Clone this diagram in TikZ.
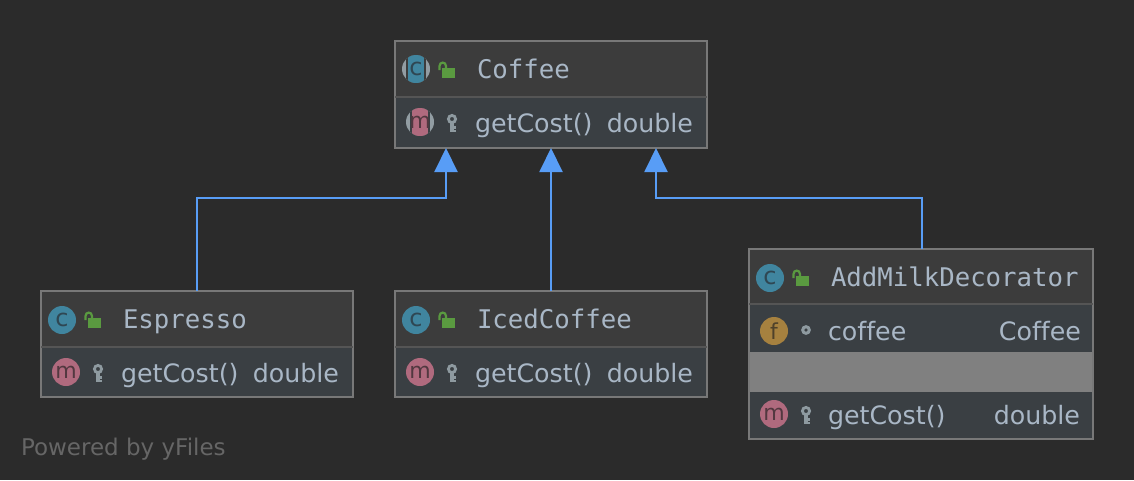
\documentclass[tikz,border=0pt]{standalone}
\usepackage{fontspec}
\setmainfont[Ligatures=NoCommon]{DejaVu Sans}
\newfontfamily\headfont{DejaVu Sans Mono}
\usetikzlibrary{arrows.meta}
\definecolor{bgc}{HTML}{2B2B2B}
\definecolor{headc}{HTML}{3C3C3C}
\definecolor{rowc}{HTML}{3A3F43}
\definecolor{edgec}{HTML}{787878}
\definecolor{divc}{HTML}{555555}
\definecolor{textc}{HTML}{A9B7C6}
\definecolor{arrowc}{HTML}{589DF6}
\definecolor{grayc}{HTML}{808080}
\definecolor{classc}{HTML}{40859F}
\definecolor{classl}{HTML}{2F4753}
\definecolor{methc}{HTML}{B06A7E}
\definecolor{methl}{HTML}{523840}
\definecolor{fieldc}{HTML}{A6813F}
\definecolor{fieldl}{HTML}{4E412A}
\definecolor{lockc}{HTML}{5A9A40}
\definecolor{keyc}{HTML}{8E9AA0}
\definecolor{creditc}{HTML}{666666}
\definecolor{absc}{HTML}{929DA3}
\tikzset{
  x=1pt,y=-1pt,
  every node/.style={outer sep=0pt},
  headbox/.style={fill=headc,draw=none,inner sep=0pt,minimum width=#1,minimum height=56,anchor=north west},
  rowbox/.style={fill=rowc,draw=none,inner sep=0pt,minimum width=#1,anchor=north west},
  frame/.style={draw=edgec,line width=1.8,fill=none,inner sep=0pt,anchor=north west},
  divider/.style={draw=divc,line width=1.6},
  title/.style={font=\headfont\fontsize{25.7}{25.7}\selectfont,text=textc,anchor=base west,inner sep=0pt},
  member/.style={font=\fontsize{25.3}{25.3}\selectfont,text=textc,anchor=base west,inner sep=0pt},
  membertype/.style={member,anchor=base east},
  iconc/.style={circle,fill=classc,minimum size=28,inner sep=0pt},
  iconm/.style={circle,fill=methc,minimum size=28,inner sep=0pt},
  iconf/.style={circle,fill=fieldc,minimum size=28,inner sep=0pt},
  letter/.style={text=#1,font=\fontsize{22}{22}\selectfont,inner sep=0pt},
  cletter/.style={text=classl,font=\fontsize{24}{24}\selectfont,inner sep=0pt},
  inherit/.style={draw=arrowc,line width=2,-{Triangle[length=24,width=23,fill=arrowc]}},
  credit/.style={text=creditc,font=\fontsize{23}{23}\selectfont,anchor=base west,inner sep=0pt}
}
\newcommand{\lockicon}[2]{%
  \fill[lockc] (#1+4,#2-3) rectangle (#1+17,#2+7);
  \draw[lockc,line width=2.2] (#1+1.5,#2-1) -- (#1+1.5,#2-5) .. controls (#1+1.5,#2-9.5) and (#1+8,#2-9.5) .. (#1+8,#2-5) -- (#1+8,#2-3);
}
\newcommand{\keyicon}[2]{%
  \draw[keyc,line width=2.8] (#1,#2-2) circle[radius=3.6];
  \draw[keyc,line width=3.2] (#1,#2+2) -- (#1,#2+11);
  \draw[keyc,line width=2.2] (#1,#2+6.5) -- (#1+4,#2+6.5) (#1,#2+10) -- (#1+4,#2+10);
}
\newcommand{\absicon}[4]{%
  \begin{scope}
    \clip (#1,#2) circle[radius=14];
    \fill[absc] (#1-14,#2-14) rectangle (#1+14,#2+14);
    \fill[#4] (#1-10,#2-14) rectangle (#1+10,#2+14);
    \fill[#3] (#1-8,#2-14) rectangle (#1+8,#2+14);
  \end{scope}
}
\begin{document}
\begin{tikzpicture}
\useasboundingbox[fill=bgc] (0,0) rectangle (1134,480);

% Coffee
\node[headbox=312] (coffeehead) at (395,41) {};
\node[rowbox=312,minimum height=51] (coffeerow) at (395,97) {};
\node[frame,minimum width=312,minimum height=107] (coffee) at (395,41) {};
\draw[divider] (coffeerow.north west) -- (coffeerow.north east);
\absicon{416}{69}{classc}{headc}
\node[cletter] (coffeeclassl) at (416,69) {c};
\absicon{420}{122}{methc}{rowc}
\node[letter=methl] (coffeemethl) at (420,122) {m};
\lockicon{438}{71}
\keyicon{452}{121}
\node[title] (coffeename) at (477,78) {Coffee};
\node[member] (coffeem) at (475,132) {getCost()};
\node[membertype] (coffeet) at (693,132) {double};

% Espresso
\node[headbox=312] (espressohead) at (41,291) {};
\node[rowbox=312,minimum height=50] (espressorow) at (41,347) {};
\node[frame,minimum width=312,minimum height=106] (espresso) at (41,291) {};
\draw[divider] (espressorow.north west) -- (espressorow.north east);
\node[iconc] (espressoclass) at (62,320) {};
\node[cletter] (espressoclassl) at (62,320) {c};
\node[iconm] (espressometh) at (66,372) {};
\node[letter=methl] (espressomethl) at (66,372) {m};
\lockicon{84}{321}
\keyicon{98}{371}
\node[title] (espressoname) at (123,328) {Espresso};
\node[member] (espressom) at (121,382) {getCost()};
\node[membertype] (espressot) at (339,382) {double};

% IcedCoffee
\node[headbox=312] (icedhead) at (395,291) {};
\node[rowbox=312,minimum height=50] (icedrow) at (395,347) {};
\node[frame,minimum width=312,minimum height=106] (iced) at (395,291) {};
\draw[divider] (icedrow.north west) -- (icedrow.north east);
\node[iconc] (icedclass) at (416,320) {};
\node[cletter] (icedclassl) at (416,320) {c};
\node[iconm] (icedmeth) at (420,372) {};
\node[letter=methl] (icedmethl) at (420,372) {m};
\lockicon{438}{321}
\keyicon{452}{371}
\node[title] (icedname) at (477,328) {IcedCoffee};
\node[member] (icedm) at (475,382) {getCost()};
\node[membertype] (icedt) at (693,382) {double};

% AddMilkDecorator
\node[headbox=344,minimum height=55] (milkhead) at (749,249) {};
\node[rowbox=344,minimum height=48] (milkrow) at (749,304) {};
\node[rowbox=344,fill=grayc,minimum height=40] (milkgap) at (749,352) {};
\node[rowbox=344,minimum height=47] (milkrow2) at (749,392) {};
\node[frame,minimum width=344,minimum height=190] (milk) at (749,249) {};
\draw[divider] (milkrow.north west) -- (milkrow.north east);
\node[iconc] (milkclass) at (770,278) {};
\node[cletter] (milkclassl) at (770,278) {c};
\node[iconf] (milkfield) at (774,331) {};
\node[letter=fieldl] (milkfieldl) at (774,331) {f};
\node[iconm] (milkmeth) at (774,414) {};
\node[letter=methl] (milkmethl) at (774,414) {m};
\lockicon{792}{279}
\draw[keyc,line width=3] (806,330) circle[radius=3.3];
\keyicon{806}{413}
\node[title] (milkname) at (831,286) {AddMilkDecorator};
\node[member] (milkf) at (828,340) {coffee};
\node[membertype] (milkft) at (1081,340) {Coffee};
\node[member] (milkm) at (828,424) {getCost()};
\node[membertype] (milkt) at (1080,424) {double};

% connectors
\coordinate (espressotop) at (197,291);
\coordinate (milktop) at (922,249);
\coordinate (tipleft) at (446,148);
\coordinate (tipright) at (656,148);
\coordinate (bendleft) at (197,198);
\coordinate (bendleftb) at (446,198);
\coordinate (bendright) at (922,198);
\coordinate (bendrightb) at (656,198);
\draw[inherit] (espressotop) -- (bendleft) -- (bendleftb) -- (tipleft);
\draw[inherit] (iced.north) -- (coffee.south);
\draw[inherit] (milktop) -- (bendright) -- (bendrightb) -- (tipright);

\node[credit] (powered) at (21,455) {Powered by yFiles};
\end{tikzpicture}
\end{document}
